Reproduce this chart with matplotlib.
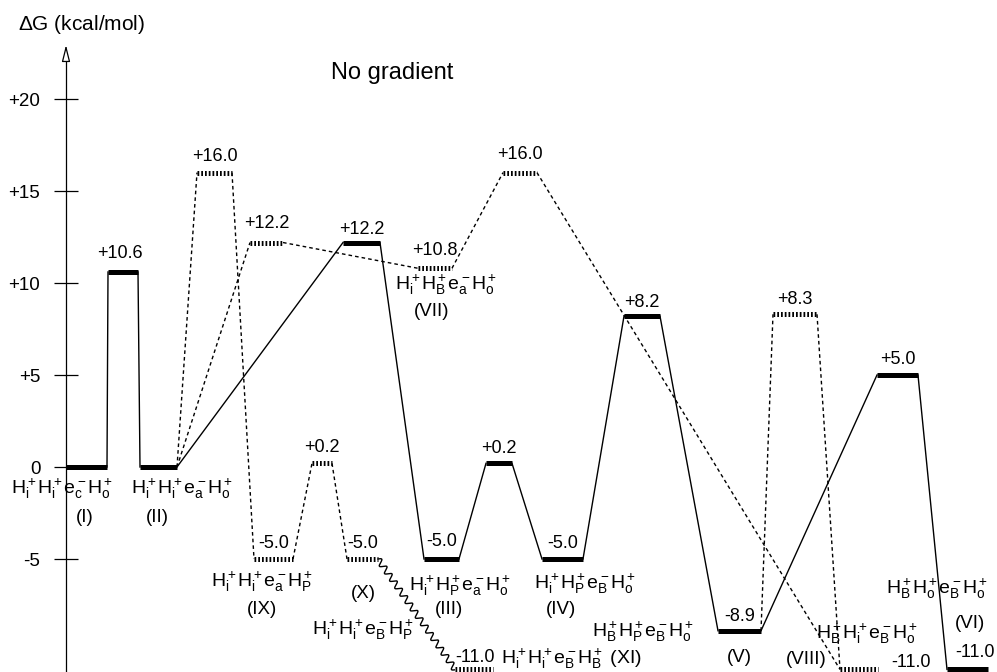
import numpy as np
import matplotlib
matplotlib.use('Agg')
import matplotlib.pyplot as plt

plt.rcParams['font.family'] = ['Liberation Sans', 'DejaVu Sans']
plt.rcParams['mathtext.fontset'] = 'custom'
plt.rcParams['mathtext.rm'] = 'Liberation Sans'
plt.rcParams['mathtext.it'] = 'Liberation Sans'
plt.rcParams['mathtext.default'] = 'regular'

# free energies in kcal/mol
main_E = [0.0, 10.6, 0.0, 12.2, -5.0, 0.2, -5.0, 8.2, -8.9, 5.0, -11.0]      # I -> II -> III -> IV -> V -> VI
path_a_E = [0.0, 16.0, -5.0, 0.2, -5.0]                                     # II -> IX -> X
xi_E = -11.0                                                                # X ~> XI
path_b_E = [0.0, 12.2, 10.8, 16.0, -11.0]                                   # II -> VII -> VIII
path_c_E = [-8.9, 8.3, -11.0]                                               # V -> VIII

yticks = [-5, 0, 5, 10, 15, 20]
ytick_labels = ['-5', '0', '+5', '+10', '+15', '+20']

# horizontal extent of each level
main_x = [(66, 107), (108, 138), (140, 177), (343, 380), (424, 459), (486, 512),
          (542, 583), (624, 660), (718, 761), (877, 918), (947, 988)]
path_a_x = [(140, 177), (197, 232), (254, 293), (312, 332), (347, 378)]
xi_x = (455, 493)
path_b_x = [(140, 177), (250, 283), (418, 452), (503, 537), (840, 878)]
path_c_x = [(718, 761), (773, 817), (840, 878)]

W, H = 997, 672
Y0, SC = 467, 18.4   # pixel row of 0 kcal/mol, pixels per kcal/mol

fig = plt.figure(figsize=(W / 100, H / 100), dpi=100)
ax = fig.add_axes([0, 0, 1, 1])
ax.set_xlim(0, W)
ax.set_ylim(-(H - Y0) / SC, Y0 / SC)

BAR = dict(color='k', lw=3.6, solid_capstyle='butt')
DOT = dict(color='k', lw=3.6, dashes=(0.35, 0.4), dash_capstyle='butt')
LINK = dict(color='k', lw=1.0)
DLINK = dict(color='k', lw=1.0, dashes=(2.6, 2.2))


def connect(spans, E, style):
    for (a, b), (c, d), e0, e1 in zip(spans[:-1], spans[1:], E[:-1], E[1:]):
        ax.plot([b, c], [e0, e1], **style)


def levels(spans, E, style):
    for (a, b), e in zip(spans, E):
        ax.plot([a, b], [e, e], **style)


connect(path_a_x, path_a_E, DLINK)
connect(path_b_x, path_b_E, DLINK)
connect(path_c_x, path_c_E, DLINK)
levels(path_a_x[1:], path_a_E[1:], DOT)
levels(path_b_x[1:], path_b_E[1:], DOT)
levels(path_c_x[1:-1], path_c_E[1:-1], DOT)
levels([xi_x], [xi_E], DOT)

connect(main_x, main_E, LINK)
levels(main_x, main_E, BAR)

# wavy link X ~> XI
p0 = ax.transData.transform((path_a_x[-1][1], path_a_E[-1]))
p1 = ax.transData.transform((xi_x[0], xi_E))
d = p1 - p0
L = np.hypot(*d)
t = np.linspace(0, 1, 600)
nrm = np.array([-d[1], d[0]]) / L
off = 3.0 * np.sin(2 * np.pi * t * L / 9.0)
pts = p0 + np.outer(t, d) + np.outer(off, nrm)
wav = ax.transData.inverted().transform(pts)
ax.plot(wav[:, 0], wav[:, 1], color='k', lw=1.0)


# value labels above the levels
def value_label(span, e, dx=0, dy=16, ha='center'):
    xc = (span[0] + span[1]) / 2
    ax.annotate(f'{e:+.1f}', (xc, e), xytext=(dx * 0.72, dy * 0.72),
                textcoords='offset points', ha=ha, va='center', fontsize=13)


main_dy = [None, 18, None, 13, 17, 15, 16, 14, 14, 16, 17]
for span, e, dy in zip(main_x, main_E, main_dy):
    if dy is None:
        continue
    dx = 7 if e == -11.0 else (-3 if e == 10.6 else 0)
    value_label(span, e, dx, dy)
for span, e in zip(path_a_x[1:], path_a_E[1:]):
    value_label(span, e, 0, 16)
value_label(xi_x, xi_E, 1, 12)
for span, e, dy in zip(path_b_x[1:-1], path_b_E[1:-1], [19, 18, 18]):
    value_label(span, e, 0, dy)
value_label(path_b_x[-1], path_b_E[-1], 32, 7, ha='left')
value_label(path_c_x[1], path_c_E[1], 0, 15)

# y axis
ax.spines[['top', 'right', 'bottom']].set_visible(False)
ax.xaxis.set_visible(False)
ax.spines['left'].set_position(('data', 66))
ax.spines['left'].set_linewidth(0.9)
ax.spines['left'].set_bounds(-(H - Y0) / SC, (Y0 - 60) / SC)
ax.set_yticks(yticks)
ax.set_yticklabels(ytick_labels)
ax.tick_params(axis='y', direction='inout', length=17, width=0.9, pad=10, labelsize=13.5)
ax.annotate('', xy=(66, (Y0 - 45) / SC), xytext=(66, (Y0 - 60) / SC),
            arrowprops=dict(arrowstyle='-|>,head_length=1.0,head_width=0.25',
                            fc='white', ec='k', lw=0.9, shrinkA=0, shrinkB=0))


def label(x, y, s, size=13.5):
    fig.text(x / W, 1 - y / H, s, ha='center', va='center', fontsize=size)


def species(a, b, c, d):
    # four-site occupancy, e.g. H+_i H+_i e-_c H+_o
    k = r'\hspace{-0.05}'
    return (r'$H^+_{%s}' + k + r'H^+_{%s}' + k + r'e^-_{%s}' + k + r'H^+_{%s}$') % (a, b, c, d)


label(82, 24, r'$\Delta$G (kcal/mol)', 15)
label(392, 73, 'No gradient', 17)

fs = 14
label(62, 489, species('i', 'i', 'c', 'o'), fs)
label(85, 517, '(I)')
label(182, 489, species('i', 'i', 'a', 'o'), fs)
label(157, 517, '(II)')
label(262, 582, species('i', 'i', 'a', 'P'), fs)
label(262, 610, '(IX)')
label(363, 594, '(X)')
label(363, 630, species('i', 'i', 'B', 'P'), fs)
label(572, 659, species('i', 'i', 'B', 'B') + ' (XI)', fs)
label(446, 285, species('i', 'B', 'a', 'o'), fs)
label(432, 312, '(VII)')
label(460, 586, species('i', 'P', 'a', 'o'), fs)
label(449, 610, '(III)')
label(585, 584, species('i', 'P', 'B', 'o'), fs)
label(561, 610, '(IV)')
label(643, 632, species('B', 'P', 'B', 'o'), fs)
label(739, 658, '(V)')
label(806, 660, '(VIII)')
label(867, 634, species('B', 'i', 'B', 'o'), fs)
label(937, 589, species('B', 'o', 'B', 'o'), fs)
label(970, 623, '(VI)')

fig.savefig('out.png', dpi=100)
